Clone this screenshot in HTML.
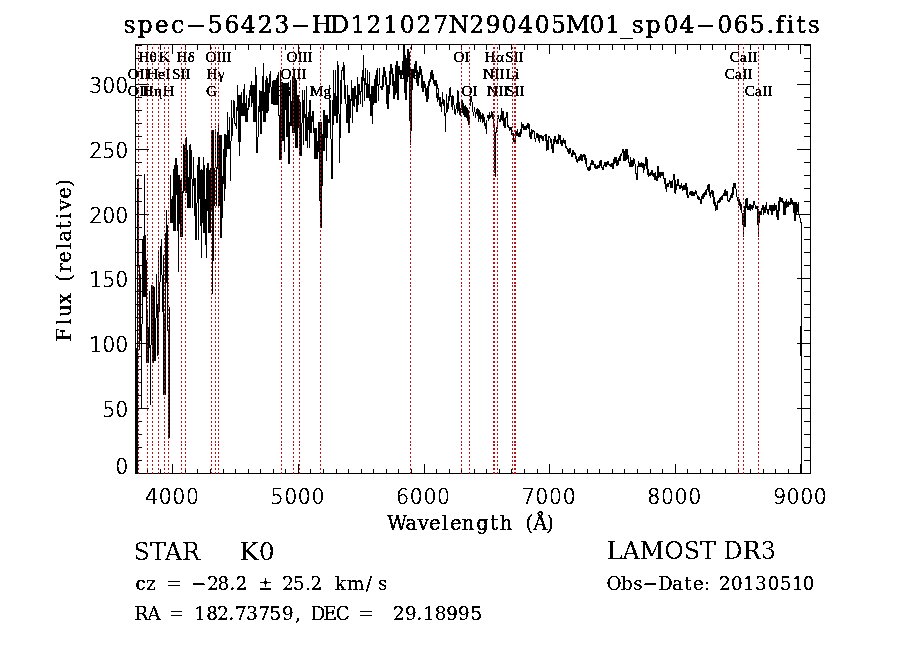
<!DOCTYPE html><html><head><meta charset="utf-8"><style>html,body{margin:0;padding:0;background:#fff;overflow:hidden}svg{display:block}</style></head><body><svg width="900" height="649" viewBox="0 0 900 649" shape-rendering="crispEdges">
<rect x="0" y="0" width="900" height="649" fill="#fff"/>
<defs><filter id="crisp" x="0" y="0" width="100%" height="100%" filterUnits="userSpaceOnUse"><feComponentTransfer><feFuncA type="discrete" tableValues="0 1"/></feComponentTransfer></filter></defs>
<g stroke="#000" stroke-width="1" fill="none">
<rect x="135.5" y="44.5" width="675" height="429"/>
<line x1="147.5" y1="473" x2="147.5" y2="468.5"/>
<line x1="147.5" y1="45" x2="147.5" y2="49.5"/>
<line x1="160.5" y1="473" x2="160.5" y2="468.5"/>
<line x1="160.5" y1="45" x2="160.5" y2="49.5"/>
<line x1="172.5" y1="473" x2="172.5" y2="464"/>
<line x1="172.5" y1="45" x2="172.5" y2="54"/>
<line x1="185.5" y1="473" x2="185.5" y2="468.5"/>
<line x1="185.5" y1="45" x2="185.5" y2="49.5"/>
<line x1="197.5" y1="473" x2="197.5" y2="468.5"/>
<line x1="197.5" y1="45" x2="197.5" y2="49.5"/>
<line x1="210.5" y1="473" x2="210.5" y2="468.5"/>
<line x1="210.5" y1="45" x2="210.5" y2="49.5"/>
<line x1="223.5" y1="473" x2="223.5" y2="468.5"/>
<line x1="223.5" y1="45" x2="223.5" y2="49.5"/>
<line x1="235.5" y1="473" x2="235.5" y2="468.5"/>
<line x1="235.5" y1="45" x2="235.5" y2="49.5"/>
<line x1="248.5" y1="473" x2="248.5" y2="468.5"/>
<line x1="248.5" y1="45" x2="248.5" y2="49.5"/>
<line x1="260.5" y1="473" x2="260.5" y2="468.5"/>
<line x1="260.5" y1="45" x2="260.5" y2="49.5"/>
<line x1="273.5" y1="473" x2="273.5" y2="468.5"/>
<line x1="273.5" y1="45" x2="273.5" y2="49.5"/>
<line x1="285.5" y1="473" x2="285.5" y2="468.5"/>
<line x1="285.5" y1="45" x2="285.5" y2="49.5"/>
<line x1="298.5" y1="473" x2="298.5" y2="464"/>
<line x1="298.5" y1="45" x2="298.5" y2="54"/>
<line x1="310.5" y1="473" x2="310.5" y2="468.5"/>
<line x1="310.5" y1="45" x2="310.5" y2="49.5"/>
<line x1="323.5" y1="473" x2="323.5" y2="468.5"/>
<line x1="323.5" y1="45" x2="323.5" y2="49.5"/>
<line x1="336.5" y1="473" x2="336.5" y2="468.5"/>
<line x1="336.5" y1="45" x2="336.5" y2="49.5"/>
<line x1="348.5" y1="473" x2="348.5" y2="468.5"/>
<line x1="348.5" y1="45" x2="348.5" y2="49.5"/>
<line x1="361.5" y1="473" x2="361.5" y2="468.5"/>
<line x1="361.5" y1="45" x2="361.5" y2="49.5"/>
<line x1="373.5" y1="473" x2="373.5" y2="468.5"/>
<line x1="373.5" y1="45" x2="373.5" y2="49.5"/>
<line x1="386.5" y1="473" x2="386.5" y2="468.5"/>
<line x1="386.5" y1="45" x2="386.5" y2="49.5"/>
<line x1="398.5" y1="473" x2="398.5" y2="468.5"/>
<line x1="398.5" y1="45" x2="398.5" y2="49.5"/>
<line x1="411.5" y1="473" x2="411.5" y2="468.5"/>
<line x1="411.5" y1="45" x2="411.5" y2="49.5"/>
<line x1="424.5" y1="473" x2="424.5" y2="464"/>
<line x1="424.5" y1="45" x2="424.5" y2="54"/>
<line x1="436.5" y1="473" x2="436.5" y2="468.5"/>
<line x1="436.5" y1="45" x2="436.5" y2="49.5"/>
<line x1="449.5" y1="473" x2="449.5" y2="468.5"/>
<line x1="449.5" y1="45" x2="449.5" y2="49.5"/>
<line x1="461.5" y1="473" x2="461.5" y2="468.5"/>
<line x1="461.5" y1="45" x2="461.5" y2="49.5"/>
<line x1="474.5" y1="473" x2="474.5" y2="468.5"/>
<line x1="474.5" y1="45" x2="474.5" y2="49.5"/>
<line x1="486.5" y1="473" x2="486.5" y2="468.5"/>
<line x1="486.5" y1="45" x2="486.5" y2="49.5"/>
<line x1="499.5" y1="473" x2="499.5" y2="468.5"/>
<line x1="499.5" y1="45" x2="499.5" y2="49.5"/>
<line x1="511.5" y1="473" x2="511.5" y2="468.5"/>
<line x1="511.5" y1="45" x2="511.5" y2="49.5"/>
<line x1="524.5" y1="473" x2="524.5" y2="468.5"/>
<line x1="524.5" y1="45" x2="524.5" y2="49.5"/>
<line x1="537.5" y1="473" x2="537.5" y2="468.5"/>
<line x1="537.5" y1="45" x2="537.5" y2="49.5"/>
<line x1="549.5" y1="473" x2="549.5" y2="464"/>
<line x1="549.5" y1="45" x2="549.5" y2="54"/>
<line x1="562.5" y1="473" x2="562.5" y2="468.5"/>
<line x1="562.5" y1="45" x2="562.5" y2="49.5"/>
<line x1="574.5" y1="473" x2="574.5" y2="468.5"/>
<line x1="574.5" y1="45" x2="574.5" y2="49.5"/>
<line x1="587.5" y1="473" x2="587.5" y2="468.5"/>
<line x1="587.5" y1="45" x2="587.5" y2="49.5"/>
<line x1="599.5" y1="473" x2="599.5" y2="468.5"/>
<line x1="599.5" y1="45" x2="599.5" y2="49.5"/>
<line x1="612.5" y1="473" x2="612.5" y2="468.5"/>
<line x1="612.5" y1="45" x2="612.5" y2="49.5"/>
<line x1="624.5" y1="473" x2="624.5" y2="468.5"/>
<line x1="624.5" y1="45" x2="624.5" y2="49.5"/>
<line x1="637.5" y1="473" x2="637.5" y2="468.5"/>
<line x1="637.5" y1="45" x2="637.5" y2="49.5"/>
<line x1="650.5" y1="473" x2="650.5" y2="468.5"/>
<line x1="650.5" y1="45" x2="650.5" y2="49.5"/>
<line x1="662.5" y1="473" x2="662.5" y2="468.5"/>
<line x1="662.5" y1="45" x2="662.5" y2="49.5"/>
<line x1="675.5" y1="473" x2="675.5" y2="464"/>
<line x1="675.5" y1="45" x2="675.5" y2="54"/>
<line x1="687.5" y1="473" x2="687.5" y2="468.5"/>
<line x1="687.5" y1="45" x2="687.5" y2="49.5"/>
<line x1="700.5" y1="473" x2="700.5" y2="468.5"/>
<line x1="700.5" y1="45" x2="700.5" y2="49.5"/>
<line x1="712.5" y1="473" x2="712.5" y2="468.5"/>
<line x1="712.5" y1="45" x2="712.5" y2="49.5"/>
<line x1="725.5" y1="473" x2="725.5" y2="468.5"/>
<line x1="725.5" y1="45" x2="725.5" y2="49.5"/>
<line x1="738.5" y1="473" x2="738.5" y2="468.5"/>
<line x1="738.5" y1="45" x2="738.5" y2="49.5"/>
<line x1="750.5" y1="473" x2="750.5" y2="468.5"/>
<line x1="750.5" y1="45" x2="750.5" y2="49.5"/>
<line x1="763.5" y1="473" x2="763.5" y2="468.5"/>
<line x1="763.5" y1="45" x2="763.5" y2="49.5"/>
<line x1="775.5" y1="473" x2="775.5" y2="468.5"/>
<line x1="775.5" y1="45" x2="775.5" y2="49.5"/>
<line x1="788.5" y1="473" x2="788.5" y2="468.5"/>
<line x1="788.5" y1="45" x2="788.5" y2="49.5"/>
<line x1="800.5" y1="473" x2="800.5" y2="464"/>
<line x1="800.5" y1="45" x2="800.5" y2="54"/>
<line x1="136" y1="460.5" x2="142" y2="460.5"/>
<line x1="810" y1="460.5" x2="804" y2="460.5"/>
<line x1="136" y1="447.5" x2="142" y2="447.5"/>
<line x1="810" y1="447.5" x2="804" y2="447.5"/>
<line x1="136" y1="434.5" x2="142" y2="434.5"/>
<line x1="810" y1="434.5" x2="804" y2="434.5"/>
<line x1="136" y1="421.5" x2="142" y2="421.5"/>
<line x1="810" y1="421.5" x2="804" y2="421.5"/>
<line x1="136" y1="408.5" x2="149" y2="408.5"/>
<line x1="810" y1="408.5" x2="797" y2="408.5"/>
<line x1="136" y1="395.5" x2="142" y2="395.5"/>
<line x1="810" y1="395.5" x2="804" y2="395.5"/>
<line x1="136" y1="382.5" x2="142" y2="382.5"/>
<line x1="810" y1="382.5" x2="804" y2="382.5"/>
<line x1="136" y1="369.5" x2="142" y2="369.5"/>
<line x1="810" y1="369.5" x2="804" y2="369.5"/>
<line x1="136" y1="356.5" x2="142" y2="356.5"/>
<line x1="810" y1="356.5" x2="804" y2="356.5"/>
<line x1="136" y1="343.5" x2="149" y2="343.5"/>
<line x1="810" y1="343.5" x2="797" y2="343.5"/>
<line x1="136" y1="330.5" x2="142" y2="330.5"/>
<line x1="810" y1="330.5" x2="804" y2="330.5"/>
<line x1="136" y1="317.5" x2="142" y2="317.5"/>
<line x1="810" y1="317.5" x2="804" y2="317.5"/>
<line x1="136" y1="304.5" x2="142" y2="304.5"/>
<line x1="810" y1="304.5" x2="804" y2="304.5"/>
<line x1="136" y1="291.5" x2="142" y2="291.5"/>
<line x1="810" y1="291.5" x2="804" y2="291.5"/>
<line x1="136" y1="278.5" x2="149" y2="278.5"/>
<line x1="810" y1="278.5" x2="797" y2="278.5"/>
<line x1="136" y1="265.5" x2="142" y2="265.5"/>
<line x1="810" y1="265.5" x2="804" y2="265.5"/>
<line x1="136" y1="252.5" x2="142" y2="252.5"/>
<line x1="810" y1="252.5" x2="804" y2="252.5"/>
<line x1="136" y1="239.5" x2="142" y2="239.5"/>
<line x1="810" y1="239.5" x2="804" y2="239.5"/>
<line x1="136" y1="227.5" x2="142" y2="227.5"/>
<line x1="810" y1="227.5" x2="804" y2="227.5"/>
<line x1="136" y1="214.5" x2="149" y2="214.5"/>
<line x1="810" y1="214.5" x2="797" y2="214.5"/>
<line x1="136" y1="201.5" x2="142" y2="201.5"/>
<line x1="810" y1="201.5" x2="804" y2="201.5"/>
<line x1="136" y1="188.5" x2="142" y2="188.5"/>
<line x1="810" y1="188.5" x2="804" y2="188.5"/>
<line x1="136" y1="175.5" x2="142" y2="175.5"/>
<line x1="810" y1="175.5" x2="804" y2="175.5"/>
<line x1="136" y1="162.5" x2="142" y2="162.5"/>
<line x1="810" y1="162.5" x2="804" y2="162.5"/>
<line x1="136" y1="149.5" x2="149" y2="149.5"/>
<line x1="810" y1="149.5" x2="797" y2="149.5"/>
<line x1="136" y1="136.5" x2="142" y2="136.5"/>
<line x1="810" y1="136.5" x2="804" y2="136.5"/>
<line x1="136" y1="123.5" x2="142" y2="123.5"/>
<line x1="810" y1="123.5" x2="804" y2="123.5"/>
<line x1="136" y1="110.5" x2="142" y2="110.5"/>
<line x1="810" y1="110.5" x2="804" y2="110.5"/>
<line x1="136" y1="97.5" x2="142" y2="97.5"/>
<line x1="810" y1="97.5" x2="804" y2="97.5"/>
<line x1="136" y1="84.5" x2="149" y2="84.5"/>
<line x1="810" y1="84.5" x2="797" y2="84.5"/>
<line x1="136" y1="71.5" x2="142" y2="71.5"/>
<line x1="810" y1="71.5" x2="804" y2="71.5"/>
<line x1="136" y1="58.5" x2="142" y2="58.5"/>
<line x1="810" y1="58.5" x2="804" y2="58.5"/>
<line x1="136" y1="45.5" x2="142" y2="45.5"/>
<line x1="810" y1="45.5" x2="804" y2="45.5"/>
</g>
<path d="M136,348h1v126h-1zM137,179h1v295h-1zM138,180h1v85h-1zM139,265h1v85h-1zM140,274h1v67h-1zM141,324h1v84h-1zM142,239h1v85h-1zM143,236h1v61h-1zM144,174h1v123h-1zM145,235h1v62h-1zM146,260h1v103h-1zM147,311h1v52h-1zM148,327h1v36h-1zM149,291h1v57h-1zM150,345h1v60h-1zM151,285h1v60h-1zM152,286h1v77h-1zM153,286h1v77h-1zM154,287h1v74h-1zM155,318h1v43h-1zM156,274h1v44h-1zM157,304h1v52h-1zM158,252h1v101h-1zM159,282h1v30h-1zM160,246h1v36h-1zM161,239h1v36h-1zM162,275h1v37h-1zM163,255h1v140h-1zM164,314h1v81h-1zM165,233h1v162h-1zM166,210h1v73h-1zM167,225h1v106h-1zM168,331h1v107h-1zM169,307h1v131h-1zM170,175h1v48h-1zM171,199h1v24h-1zM172,196h1v27h-1zM173,169h1v62h-1zM174,165h1v66h-1zM175,158h1v73h-1zM176,158h1v37h-1zM177,165h1v66h-1zM178,175h1v97h-1zM179,175h1v49h-1zM180,180h1v57h-1zM181,178h1v59h-1zM182,191h1v46h-1zM183,144h1v49h-1zM184,145h1v46h-1zM185,140h1v53h-1zM186,137h1v56h-1zM187,150h1v58h-1zM188,177h1v31h-1zM189,145h1v63h-1zM190,144h1v64h-1zM191,150h1v29h-1zM192,179h1v29h-1zM193,157h1v29h-1zM194,178h1v38h-1zM195,178h1v62h-1zM196,203h1v37h-1zM197,165h1v38h-1zM198,157h1v83h-1zM199,157h1v42h-1zM200,170h1v56h-1zM201,169h1v89h-1zM202,170h1v53h-1zM203,157h1v76h-1zM204,165h1v68h-1zM205,199h1v46h-1zM206,168h1v90h-1zM207,163h1v48h-1zM208,163h1v70h-1zM209,170h1v63h-1zM210,168h1v65h-1zM211,130h1v82h-1zM212,130h1v164h-1zM213,130h1v131h-1zM214,168h1v38h-1zM215,129h1v39h-1zM216,167h1v39h-1zM217,132h1v37h-1zM218,123h1v83h-1zM219,135h1v71h-1zM220,135h1v103h-1zM221,135h1v103h-1zM222,176h1v42h-1zM223,149h1v35h-1zM224,134h1v67h-1zM225,134h1v55h-1zM226,135h1v22h-1zM227,112h1v37h-1zM228,130h1v19h-1zM229,117h1v32h-1zM230,141h1v40h-1zM231,100h1v41h-1zM232,118h1v18h-1zM233,100h1v18h-1zM234,101h1v23h-1zM235,123h1v3h-1zM236,107h1v22h-1zM237,85h1v26h-1zM238,95h1v47h-1zM239,95h1v61h-1zM240,95h1v47h-1zM241,92h1v24h-1zM242,103h1v13h-1zM243,89h1v27h-1zM244,84h1v32h-1zM245,103h1v19h-1zM246,95h1v27h-1zM247,108h1v14h-1zM248,98h1v12h-1zM249,90h1v17h-1zM250,85h1v11h-1zM251,81h1v26h-1zM252,85h1v18h-1zM253,85h1v37h-1zM254,85h1v37h-1zM255,67h1v55h-1zM256,75h1v78h-1zM257,137h1v16h-1zM258,106h1v31h-1zM259,90h1v22h-1zM260,91h1v43h-1zM261,91h1v43h-1zM262,76h1v35h-1zM263,63h1v59h-1zM264,92h1v30h-1zM265,80h1v42h-1zM266,76h1v37h-1zM267,78h1v35h-1zM268,83h1v28h-1zM269,74h1v19h-1zM270,71h1v16h-1zM271,87h1v17h-1zM272,81h1v23h-1zM273,80h1v25h-1zM274,80h1v25h-1zM275,80h1v25h-1zM276,78h1v27h-1zM277,75h1v30h-1zM278,72h1v44h-1zM279,115h1v45h-1zM280,70h1v90h-1zM281,82h1v78h-1zM282,82h1v59h-1zM283,83h1v58h-1zM284,83h1v69h-1zM285,83h1v27h-1zM286,83h1v54h-1zM287,83h1v54h-1zM288,82h1v82h-1zM289,122h1v42h-1zM290,80h1v46h-1zM291,101h1v25h-1zM292,76h1v57h-1zM293,78h1v55h-1zM294,78h1v55h-1zM295,79h1v69h-1zM296,80h1v68h-1zM297,95h1v53h-1zM298,95h1v33h-1zM299,100h1v56h-1zM300,102h1v54h-1zM301,123h1v33h-1zM302,90h1v33h-1zM303,100h1v45h-1zM304,90h1v28h-1zM305,114h1v27h-1zM306,86h1v55h-1zM307,117h1v31h-1zM308,112h1v18h-1zM309,100h1v48h-1zM310,100h1v33h-1zM311,116h1v17h-1zM312,111h1v11h-1zM313,111h1v22h-1zM314,128h1v31h-1zM315,128h1v31h-1zM316,128h1v31h-1zM317,141h1v18h-1zM318,122h1v30h-1zM319,122h1v79h-1zM320,122h1v106h-1zM321,122h1v106h-1zM322,134h1v52h-1zM323,110h1v41h-1zM324,110h1v41h-1zM325,115h1v23h-1zM326,115h1v46h-1zM327,115h1v23h-1zM328,119h1v4h-1zM329,85h1v38h-1zM330,100h1v39h-1zM331,139h1v40h-1zM332,100h1v79h-1zM333,70h1v55h-1zM334,93h1v23h-1zM335,70h1v46h-1zM336,96h1v27h-1zM337,61h1v62h-1zM338,65h1v49h-1zM339,114h1v49h-1zM340,80h1v58h-1zM341,70h1v34h-1zM342,67h1v4h-1zM343,62h1v18h-1zM344,65h1v34h-1zM345,85h1v19h-1zM346,104h1v19h-1zM347,85h1v38h-1zM348,95h1v38h-1zM349,95h1v38h-1zM350,99h1v19h-1zM351,80h1v21h-1zM352,88h1v35h-1zM353,88h1v18h-1zM354,86h1v21h-1zM355,86h1v13h-1zM356,95h1v17h-1zM357,77h1v35h-1zM358,84h1v21h-1zM359,84h1v11h-1zM360,91h1v13h-1zM361,77h1v15h-1zM362,70h1v37h-1zM363,55h1v26h-1zM364,78h1v23h-1zM365,68h1v17h-1zM366,83h1v15h-1zM367,70h1v28h-1zM368,84h1v14h-1zM369,72h1v29h-1zM370,94h1v22h-1zM371,86h1v30h-1zM372,86h1v38h-1zM373,86h1v19h-1zM374,79h1v24h-1zM375,75h1v28h-1zM376,70h1v33h-1zM377,68h1v18h-1zM378,84h1v17h-1zM379,68h1v17h-1zM380,86h1v2h-1zM381,86h1v4h-1zM382,75h1v15h-1zM383,67h1v20h-1zM384,67h1v10h-1zM385,71h1v14h-1zM386,77h1v27h-1zM387,85h1v24h-1zM388,85h1v24h-1zM389,71h1v23h-1zM390,64h1v21h-1zM391,64h1v10h-1zM392,68h1v18h-1zM393,74h1v25h-1zM394,81h1v18h-1zM395,65h1v30h-1zM396,61h1v32h-1zM397,61h1v39h-1zM398,66h1v34h-1zM399,66h1v9h-1zM400,70h1v9h-1zM401,70h1v9h-1zM402,61h1v14h-1zM403,45h1v25h-1zM404,45h1v48h-1zM405,55h1v45h-1zM406,58h1v42h-1zM407,49h1v33h-1zM408,49h1v27h-1zM409,52h1v69h-1zM410,76h1v69h-1zM411,70h1v61h-1zM412,69h1v21h-1zM413,69h1v8h-1zM414,64h1v13h-1zM415,61h1v11h-1zM416,61h1v22h-1zM417,70h1v16h-1zM418,72h1v14h-1zM419,66h1v12h-1zM420,66h1v9h-1zM421,69h1v19h-1zM422,75h1v17h-1zM423,81h1v11h-1zM424,81h1v7h-1zM425,84h1v12h-1zM426,88h1v14h-1zM427,86h1v16h-1zM428,81h1v18h-1zM429,79h1v7h-1zM430,72h1v10h-1zM431,70h1v9h-1zM432,70h1v10h-1zM433,74h1v10h-1zM434,80h1v6h-1zM435,80h1v6h-1zM436,80h1v18h-1zM437,84h1v5h-1zM437,93h1v9h-1zM438,88h1v12h-1zM439,97h1v9h-1zM440,97h1v10h-1zM441,102h1v10h-1zM442,92h1v12h-1zM443,99h1v7h-1zM444,100h1v16h-1zM445,113h1v19h-1zM446,94h1v19h-1zM447,103h1v9h-1zM448,96h1v13h-1zM449,88h1v13h-1zM450,87h1v10h-1zM451,96h1v11h-1zM452,95h1v15h-1zM453,96h1v9h-1zM454,105h1v9h-1zM455,109h1v6h-1zM456,103h1v6h-1zM457,90h1v23h-1zM458,91h1v20h-1zM459,102h1v13h-1zM460,108h1v8h-1zM461,99h1v11h-1zM462,100h1v13h-1zM463,103h1v12h-1zM464,106h1v11h-1zM465,105h1v12h-1zM466,107h1v11h-1zM467,108h1v13h-1zM468,110h1v15h-1zM469,115h1v10h-1zM470,96h1v10h-1zM471,96h1v6h-1zM472,102h1v10h-1zM473,112h1v4h-1zM474,107h1v5h-1zM475,112h1v6h-1zM476,109h1v5h-1zM477,108h1v8h-1zM478,109h1v13h-1zM479,110h1v9h-1zM480,112h1v10h-1zM481,115h1v4h-1zM482,113h1v10h-1zM483,114h1v8h-1zM484,117h1v9h-1zM485,123h1v6h-1zM486,120h1v14h-1zM487,115h1v3h-1zM488,115h1v6h-1zM489,112h1v7h-1zM490,115h1v3h-1zM491,111h1v6h-1zM492,112h1v7h-1zM493,114h1v12h-1zM494,123h1v50h-1zM495,132h1v45h-1zM496,127h1v6h-1zM497,118h1v11h-1zM498,115h1v4h-1zM499,119h1v3h-1zM500,115h1v7h-1zM501,108h1v12h-1zM502,111h1v10h-1zM503,111h1v15h-1zM504,118h1v10h-1zM505,117h1v11h-1zM506,112h1v6h-1zM507,112h1v15h-1zM508,125h1v3h-1zM509,127h1v4h-1zM510,127h1v3h-1zM511,127h1v8h-1zM512,133h1v3h-1zM513,133h1v9h-1zM514,138h1v5h-1zM515,132h1v11h-1zM516,131h1v5h-1zM517,129h1v7h-1zM518,133h1v4h-1zM519,132h1v5h-1zM520,129h1v8h-1zM521,122h1v12h-1zM522,124h1v4h-1zM523,124h1v6h-1zM524,126h1v4h-1zM525,126h1v4h-1zM526,125h1v5h-1zM527,123h1v5h-1zM528,123h1v6h-1zM529,124h1v13h-1zM530,132h1v7h-1zM531,129h1v10h-1zM532,130h1v4h-1zM533,130h1v2h-1zM534,131h1v8h-1zM535,138h1v4h-1zM536,133h1v5h-1zM537,133h1v5h-1zM538,134h1v7h-1zM539,135h1v8h-1zM540,135h1v3h-1zM541,135h1v4h-1zM542,136h1v5h-1zM543,136h1v5h-1zM544,135h1v1h-1zM545,134h1v7h-1zM546,134h1v17h-1zM547,140h1v10h-1zM548,136h1v14h-1zM549,136h1v2h-1zM550,138h1v5h-1zM551,139h1v10h-1zM552,144h1v9h-1zM553,139h1v14h-1zM554,136h1v8h-1zM555,136h1v6h-1zM556,140h1v4h-1zM557,139h1v5h-1zM558,134h1v10h-1zM559,135h1v5h-1zM560,135h1v9h-1zM561,140h1v6h-1zM562,140h1v6h-1zM563,138h1v5h-1zM564,140h1v4h-1zM565,140h1v8h-1zM566,146h1v3h-1zM567,148h1v4h-1zM568,149h1v5h-1zM569,148h1v6h-1zM570,148h1v5h-1zM571,153h1v4h-1zM572,150h1v7h-1zM573,150h1v5h-1zM574,152h1v3h-1zM575,153h1v6h-1zM576,156h1v6h-1zM577,159h1v4h-1zM578,157h1v4h-1zM579,156h1v5h-1zM580,154h1v6h-1zM581,154h1v7h-1zM582,155h1v6h-1zM583,154h1v3h-1zM584,154h1v6h-1zM585,155h1v9h-1zM586,158h1v9h-1zM587,167h1v3h-1zM588,167h1v4h-1zM589,166h1v5h-1zM590,163h1v7h-1zM591,160h1v5h-1zM592,160h1v5h-1zM593,161h1v4h-1zM594,164h1v4h-1zM595,164h1v5h-1zM596,166h1v3h-1zM597,165h1v4h-1zM598,165h1v3h-1zM599,161h1v7h-1zM600,160h1v6h-1zM601,160h1v8h-1zM602,167h1v3h-1zM603,165h1v5h-1zM604,162h1v4h-1zM605,162h1v5h-1zM606,162h1v5h-1zM607,161h1v4h-1zM608,161h1v4h-1zM609,164h1v2h-1zM610,164h1v3h-1zM611,163h1v4h-1zM612,163h1v6h-1zM613,159h1v10h-1zM614,157h1v7h-1zM615,157h1v6h-1zM616,157h1v9h-1zM617,160h1v6h-1zM618,158h1v7h-1zM619,156h1v5h-1zM620,154h1v7h-1zM621,153h1v3h-1zM622,149h1v4h-1zM623,149h1v12h-1zM624,151h1v10h-1zM625,149h1v12h-1zM626,149h1v11h-1zM627,149h1v10h-1zM628,155h1v8h-1zM629,162h1v5h-1zM630,157h1v10h-1zM631,160h1v7h-1zM632,160h1v7h-1zM633,158h1v8h-1zM634,159h1v5h-1zM635,164h1v10h-1zM636,173h1v7h-1zM637,166h1v14h-1zM638,161h1v6h-1zM639,163h1v4h-1zM640,163h1v4h-1zM641,162h1v5h-1zM642,163h1v5h-1zM643,163h1v10h-1zM644,164h1v6h-1zM645,157h1v9h-1zM646,157h1v12h-1zM647,159h1v16h-1zM648,169h1v8h-1zM649,173h1v3h-1zM650,172h1v4h-1zM651,170h1v5h-1zM652,170h1v6h-1zM653,173h1v4h-1zM654,173h1v7h-1zM655,172h1v8h-1zM656,176h1v5h-1zM657,166h1v15h-1zM658,166h1v12h-1zM659,172h1v5h-1zM660,172h1v6h-1zM661,172h1v4h-1zM662,172h1v4h-1zM663,172h1v7h-1zM664,178h1v6h-1zM665,178h1v11h-1zM666,184h1v8h-1zM667,183h1v4h-1zM668,183h1v4h-1zM669,180h1v4h-1zM670,181h1v7h-1zM671,181h1v7h-1zM672,180h1v8h-1zM673,174h1v6h-1zM674,174h1v19h-1zM675,180h1v14h-1zM676,184h1v6h-1zM677,179h1v7h-1zM678,179h1v7h-1zM679,185h1v4h-1zM680,185h1v4h-1zM681,183h1v5h-1zM682,186h1v5h-1zM683,185h1v5h-1zM684,185h1v5h-1zM685,183h1v7h-1zM686,183h1v12h-1zM687,187h1v11h-1zM688,195h1v3h-1zM689,192h1v3h-1zM690,191h1v4h-1zM691,191h1v5h-1zM692,191h1v5h-1zM693,192h1v4h-1zM694,192h1v4h-1zM695,190h1v4h-1zM696,191h1v4h-1zM697,195h1v4h-1zM698,196h1v4h-1zM699,197h1v3h-1zM700,199h1v5h-1zM701,196h1v8h-1zM702,194h1v5h-1zM703,193h1v6h-1zM704,192h1v5h-1zM705,190h1v5h-1zM706,189h1v6h-1zM707,185h1v5h-1zM708,184h1v8h-1zM709,184h1v12h-1zM710,192h1v6h-1zM711,190h1v4h-1zM712,190h1v7h-1zM713,191h1v13h-1zM714,197h1v9h-1zM715,202h1v9h-1zM716,205h1v5h-1zM717,201h1v9h-1zM718,200h1v3h-1zM719,198h1v5h-1zM720,197h1v5h-1zM721,196h1v4h-1zM722,195h1v5h-1zM723,193h1v3h-1zM724,190h1v6h-1zM725,189h1v7h-1zM726,191h1v5h-1zM727,191h1v10h-1zM728,200h1v2h-1zM729,198h1v4h-1zM730,195h1v5h-1zM731,193h1v5h-1zM732,187h1v11h-1zM733,183h1v12h-1zM734,183h1v5h-1zM735,183h1v6h-1zM736,189h1v8h-1zM737,197h1v4h-1zM738,197h1v8h-1zM739,199h1v7h-1zM740,202h1v8h-1zM741,204h1v9h-1zM742,213h1v12h-1zM743,213h1v24h-1zM744,206h1v21h-1zM745,199h1v28h-1zM746,198h1v10h-1zM747,198h1v12h-1zM748,206h1v4h-1zM749,204h1v6h-1zM750,204h1v7h-1zM751,205h1v4h-1zM752,205h1v5h-1zM753,201h1v7h-1zM754,201h1v4h-1zM755,205h1v4h-1zM756,206h1v3h-1zM757,206h1v19h-1zM758,209h1v28h-1zM759,211h1v12h-1zM760,211h1v4h-1zM761,208h1v7h-1zM762,205h1v5h-1zM763,205h1v10h-1zM764,207h1v6h-1zM765,205h1v8h-1zM766,202h1v8h-1zM767,209h1v5h-1zM768,209h1v6h-1zM769,205h1v5h-1zM770,205h1v6h-1zM771,205h1v10h-1zM772,205h1v10h-1zM773,205h1v6h-1zM774,203h1v8h-1zM775,205h1v5h-1zM776,205h1v12h-1zM777,210h1v10h-1zM778,201h1v19h-1zM779,197h1v14h-1zM780,197h1v5h-1zM781,198h1v4h-1zM782,198h1v5h-1zM783,201h1v14h-1zM784,202h1v13h-1zM785,201h1v14h-1zM786,199h1v9h-1zM787,202h1v5h-1zM788,201h1v6h-1zM789,202h1v3h-1zM790,198h1v7h-1zM791,198h1v6h-1zM792,200h1v5h-1zM793,202h1v11h-1zM794,202h1v19h-1zM795,202h1v19h-1zM796,202h1v13h-1zM797,204h1v8h-1zM798,202h1v13h-1zM799,215h1v3h-1zM800,218h1v5h-1zM800,326h1v30h-1zM801,222h1v252h-1z" fill="#000" shape-rendering="crispEdges"/>
<g filter="url(#crisp)">
<g font-family="DejaVu Sans, sans-serif" font-weight="200" font-size="20.5" fill="#000" stroke="#000" stroke-width="0.5">
<text x="172.3" y="503.5" text-anchor="middle" letter-spacing="0.6">4000</text>
<text x="297.8" y="503.5" text-anchor="middle" letter-spacing="0.6">5000</text>
<text x="423.4" y="503.5" text-anchor="middle" letter-spacing="0.6">6000</text>
<text x="549.0" y="503.5" text-anchor="middle" letter-spacing="0.6">7000</text>
<text x="674.6" y="503.5" text-anchor="middle" letter-spacing="0.6">8000</text>
<text x="800.2" y="503.5" text-anchor="middle" letter-spacing="0.6">9000</text>
<text x="128.3" y="474.0" text-anchor="end">0</text>
<text x="128.3" y="417.1" text-anchor="end">50</text>
<text x="128.3" y="352.2" text-anchor="end">100</text>
<text x="128.3" y="287.4" text-anchor="end">150</text>
<text x="128.3" y="222.6" text-anchor="end">200</text>
<text x="128.3" y="157.7" text-anchor="end">250</text>
<text x="128.3" y="92.9" text-anchor="end">300</text>
</g>
<text y="32.9" font-family="DejaVu Serif, serif" font-size="23.6" stroke="#000" stroke-width="0.35" text-anchor="middle" x="129.45 145.00 161.70 177.50 196.10 215.30 231.65 248.35 265.30 281.65 300.85 321.70 339.70 358.05 373.90 390.85 407.20 423.90 440.55 458.90 476.65 493.05 509.20 525.55 542.20 558.60 577.80 596.65 612.80 626.65 637.75 653.10 670.80 686.95 705.85 724.80 741.00 757.20 770.30 780.10 790.15 800.90 813.70">spec&#8722;56423&#8722;HD121027N290405M01_sp04&#8722;065.fits</text>
<text y="529.6" font-family="DejaVu Serif, serif" font-size="19.5" stroke="#000" stroke-width="0.3" text-anchor="middle" x="397 411 423.2 434.8 445 455.8 468 482.5 494.2 506.1 529.2 540.3 550">Wavelength(&#197;)</text>
<text transform="translate(70.9,0) rotate(-90)" y="0" font-family="DejaVu Serif, serif" font-size="19.5" stroke="#000" stroke-width="0.3" text-anchor="middle" x="-334.8 -321.6 -310.5 -298.7 -277.9 -267.5 -256.9 -245.8 -236 -225 -215.9 -205.1 -192.9 -183">Flux(relative)</text>
<g font-family="Liberation Serif, serif" font-size="15.5" stroke="#000" stroke-width="0.35" fill="#000" text-anchor="middle">
<text x="147.5" y="62.0">H&#952;</text>
<text x="164.5" y="62.0">K</text>
<text x="185.5" y="62.0">H&#948;</text>
<text x="218.5" y="62.0">OIII</text>
<text x="299.5" y="62.0">OIII</text>
<text x="461.5" y="62.0">OI</text>
<text x="494.5" y="62.0">H&#945;</text>
<text x="514.5" y="62.0">SII</text>
<text x="743.5" y="62.0">CaII</text>
<text x="138.5" y="78.9">OII</text>
<text x="158.5" y="78.9">HeI</text>
<text x="181.5" y="78.9">SII</text>
<text x="215.5" y="78.9">H&#947;</text>
<text x="293.5" y="78.9">OIII</text>
<text x="410.5" y="78.9">Na</text>
<text x="493.5" y="78.9">NII</text>
<text x="512.5" y="78.9">Li</text>
<text x="738.5" y="78.9">CaII</text>
<text x="138.5" y="96.0">OII</text>
<text x="152.5" y="96.0">H&#951;</text>
<text x="168.5" y="96.0">H</text>
<text x="211.5" y="96.0">G</text>
<text x="281.5" y="96.0">H&#946;</text>
<text x="320.5" y="96.0">Mg</text>
<text x="469.5" y="96.0">OI</text>
<text x="497.5" y="96.0">NII</text>
<text x="515.5" y="96.0">SII</text>
<text x="758.5" y="96.0">CaII</text>
</g>
</g>
<g stroke="#b40f14" stroke-width="1" stroke-dasharray="2 1.975" stroke-dashoffset="1">
<line x1="138.5" y1="44" x2="138.5" y2="474"/>
<line x1="138.5" y1="44" x2="138.5" y2="474"/>
<line x1="147.5" y1="44" x2="147.5" y2="474"/>
<line x1="152.5" y1="44" x2="152.5" y2="474"/>
<line x1="158.5" y1="44" x2="158.5" y2="474"/>
<line x1="164.5" y1="44" x2="164.5" y2="474"/>
<line x1="168.5" y1="44" x2="168.5" y2="474"/>
<line x1="181.5" y1="44" x2="181.5" y2="474"/>
<line x1="185.5" y1="44" x2="185.5" y2="474"/>
<line x1="211.5" y1="44" x2="211.5" y2="474"/>
<line x1="215.5" y1="44" x2="215.5" y2="474"/>
<line x1="218.5" y1="44" x2="218.5" y2="474"/>
<line x1="281.5" y1="44" x2="281.5" y2="474"/>
<line x1="293.5" y1="44" x2="293.5" y2="474"/>
<line x1="299.5" y1="44" x2="299.5" y2="474"/>
<line x1="320.5" y1="44" x2="320.5" y2="474"/>
<line x1="410.5" y1="44" x2="410.5" y2="474"/>
<line x1="461.5" y1="44" x2="461.5" y2="474"/>
<line x1="469.5" y1="44" x2="469.5" y2="474"/>
<line x1="493.5" y1="44" x2="493.5" y2="474"/>
<line x1="494.5" y1="44" x2="494.5" y2="474"/>
<line x1="497.5" y1="44" x2="497.5" y2="474"/>
<line x1="512.5" y1="44" x2="512.5" y2="474"/>
<line x1="514.5" y1="44" x2="514.5" y2="474"/>
<line x1="515.5" y1="44" x2="515.5" y2="474"/>
<line x1="738.5" y1="44" x2="738.5" y2="474"/>
<line x1="743.5" y1="44" x2="743.5" y2="474"/>
<line x1="758.5" y1="44" x2="758.5" y2="474"/>
</g>
<g filter="url(#crisp)">
<text x="133.6" y="559.5" font-family="DejaVu Serif, serif" font-size="24" textLength="66.5" lengthAdjust="spacingAndGlyphs">STAR</text>
<text x="239.8" y="559.5" font-family="DejaVu Serif, serif" font-size="24" textLength="35" lengthAdjust="spacingAndGlyphs">K0</text>
<text x="606.8" y="559.4" font-family="DejaVu Serif, serif" font-size="24" textLength="169" lengthAdjust="spacingAndGlyphs">LAMOST DR3</text>
<g font-family="DejaVu Serif, serif" font-size="18.3" stroke="#000" stroke-width="0.25">
<text y="589.5" text-anchor="middle"  x="140.5 151.0 174.1 198.7 213.1 223.3 232.3 241.6 265.3 288.0 298.7 308.0 316.4 340.4 355.6 368.9 382.7">cz=&#8722;28.2&#177;25.2km/s</text>
<text y="619.8" text-anchor="middle"  x="141.5 154.0 176.5 200.0 212.0 223.0 231.5 240.8 252.0 264.0 275.3 287.8 298.0 318.0 330.3 342.7 366.0 398.7 410.7 419.5 428.8 440.5 452.1 463.8 476.3">RA=182.73759,DEC=29.18995</text>
<text y="589.6" text-anchor="middle"  x="614.1 626.9 637.9 650.1 665.4 677.6 688.0 698.4 707.0 724.7 736.9 748.5 760.8 773.6 785.8 797.5 808.5">Obs&#8722;Date:20130510</text>
</g>
</g>
</svg></body></html>
